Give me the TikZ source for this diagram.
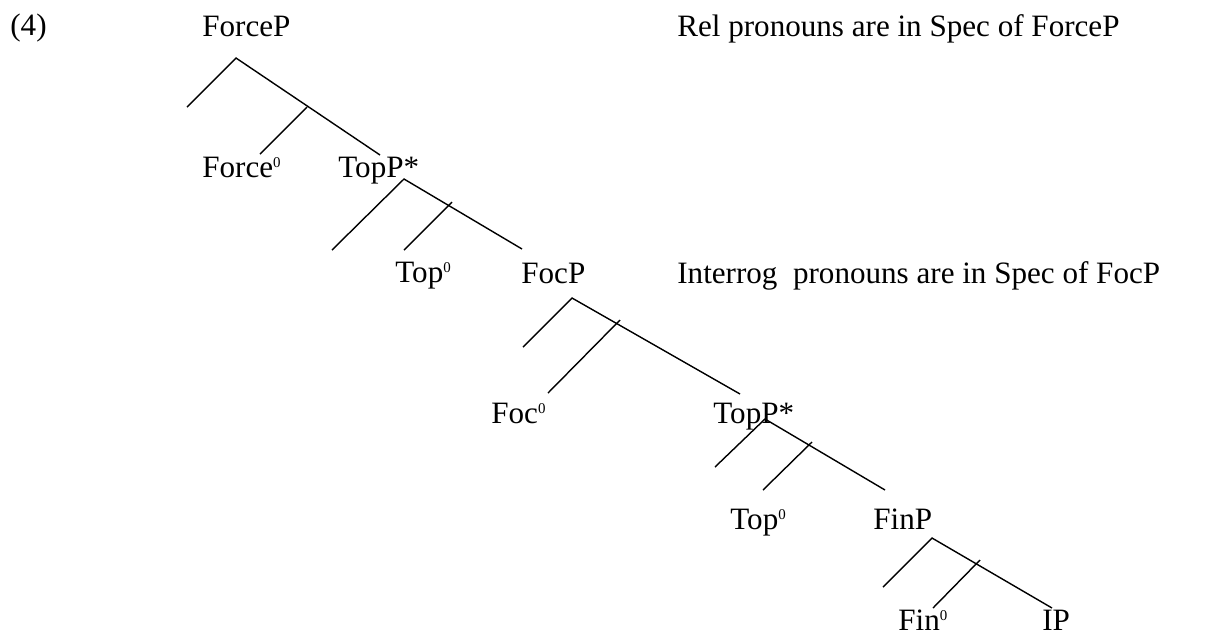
\documentclass[tikz,border=0pt]{standalone}
\usepackage{fontspec}
\setmainfont{Liberation Serif}
\newcommand{\catzero}{\raisebox{5.2pt}{\fontsize{8.5}{9}\selectfont 0}}
\tikzset{
  cat/.style={anchor=base west, inner sep=0pt, font=\fontsize{17.7}{20}\selectfont},
  branch/.style={line width=0.8pt}
}
\begin{document}
\begin{tikzpicture}[x=0.02cm,y=-0.02cm]
	\useasboundingbox (0,0) rectangle (1227,637);
	\node[cat] (ex) at (10,35) {(4)};
	\node[cat] (forcep) at (202,36) {ForceP};
	\node[cat] (relnote) at (677,36) {Rel pronouns are in Spec of ForceP};
	\node[cat] (force0) at (202,177) {Force\catzero};
	\node[cat] (topp1) at (338,177) {TopP*};
	\node[cat] (top01) at (395,282) {Top\catzero};
	\node[cat] (focp) at (521,283) {FocP};
	\node[cat] (intnote) at (677,283) {Interrog\ \ pronouns are in Spec of FocP};
	\node[cat] (foc0) at (491,423) {Foc\catzero};
	\node[cat] (topp2) at (713,423) {TopP*};
	\node[cat] (top02) at (730,529) {Top\catzero};
	\node[cat] (finp) at (873,529) {FinP};
	\node[cat] (fin0) at (898,630) {Fin\catzero};
	\node[cat] (ip) at (1042,630) {IP};
	\coordinate (forcep-a) at (236,58);
	\coordinate (forcep-s) at (187,107);
	\coordinate (forcep-c) at (380,155);
	\coordinate (forcep-j) at (307,107);
	\coordinate (forcep-h) at (260,154);
	\draw[branch] (forcep-s) -- (forcep-a) -- (forcep-c);
	\draw[branch] (forcep-j) -- (forcep-h);
	\coordinate (topp1-a) at (404,179);
	\coordinate (topp1-s) at (332,250);
	\coordinate (topp1-c) at (522,249);
	\coordinate (topp1-j) at (452,202);
	\coordinate (topp1-h) at (404,250);
	\draw[branch] (topp1-s) -- (topp1-a) -- (topp1-c);
	\draw[branch] (topp1-j) -- (topp1-h);
	\coordinate (focp-a) at (572,298);
	\coordinate (focp-s) at (523,347);
	\coordinate (focp-c) at (740,394);
	\coordinate (focp-j) at (620,320);
	\coordinate (focp-h) at (548,393);
	\draw[branch] (focp-s) -- (focp-a) -- (focp-c);
	\draw[branch] (focp-j) -- (focp-h);
	\coordinate (topp2-a) at (765,419);
	\coordinate (topp2-s) at (715,467);
	\coordinate (topp2-c) at (885,490);
	\coordinate (topp2-j) at (812,442);
	\coordinate (topp2-h) at (763,490);
	\draw[branch] (topp2-s) -- (topp2-a) -- (topp2-c);
	\draw[branch] (topp2-j) -- (topp2-h);
	\coordinate (finp-a) at (932,538);
	\coordinate (finp-s) at (883,587);
	\coordinate (finp-c) at (1052,608);
	\coordinate (finp-j) at (980,560);
	\coordinate (finp-h) at (933,608);
	\draw[branch] (finp-s) -- (finp-a) -- (finp-c);
	\draw[branch] (finp-j) -- (finp-h);
\end{tikzpicture}
\end{document}
